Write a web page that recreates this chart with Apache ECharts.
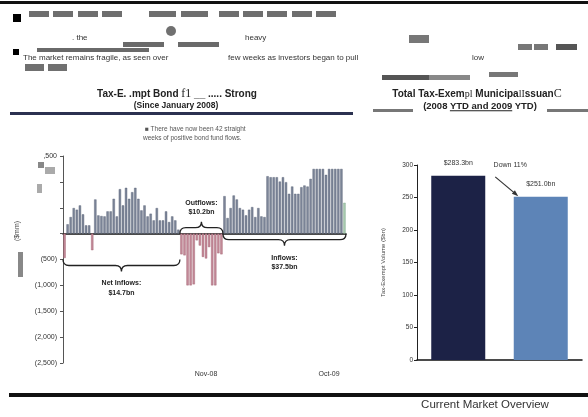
<!DOCTYPE html>
<html>
<head>
<meta charset="utf-8">
<title>Current Market Overview</title>
<script src="https://cdn.jsdelivr.net/npm/echarts@6/dist/echarts.min.js"></script>
<style>
  html, body { margin: 0; padding: 0; background: #fff; }
  #page { position: relative; width: 588px; height: 417px; overflow: hidden; font-family: 'Liberation Sans', Arial, sans-serif; color: #333; }
  #chart { position: absolute; left: 0; top: 0; width: 588px; height: 417px; }
  .t { position: absolute; white-space: nowrap; line-height: 1; transform: translateY(-50%); pointer-events: none; }
  .c { position: absolute; white-space: nowrap; line-height: 1; transform: translate(-50%, -50%); pointer-events: none; font-weight: bold; color: #222; }
  .b { position: absolute; pointer-events: none; }
  .s { font-family: 'Liberation Serif', 'DejaVu Serif', serif; font-weight: normal; }
</style>
</head>
<body>
<div id="page">
  <div id="chart"></div>

  <!-- page rules and redaction blocks -->
  <div class="b" style="left:0;top:1px;width:588px;height:3px;background:#111"></div>
  <div class="b" style="left:13px;top:14px;width:8px;height:8px;background:#000"></div>
  <div class="b" style="left:29px;top:11px;width:20px;height:6px;background:#6e6e6e"></div>
  <div class="b" style="left:53px;top:11px;width:20px;height:6px;background:#6e6e6e"></div>
  <div class="b" style="left:78px;top:11px;width:20px;height:6px;background:#6e6e6e"></div>
  <div class="b" style="left:102px;top:11px;width:20px;height:6px;background:#6e6e6e"></div>
  <div class="b" style="left:149px;top:11px;width:27px;height:6px;background:#6e6e6e"></div>
  <div class="b" style="left:181px;top:11px;width:27px;height:6px;background:#6e6e6e"></div>
  <div class="b" style="left:219px;top:11px;width:20px;height:6px;background:#6e6e6e"></div>
  <div class="b" style="left:243px;top:11px;width:20px;height:6px;background:#6e6e6e"></div>
  <div class="b" style="left:267px;top:11px;width:20px;height:6px;background:#6e6e6e"></div>
  <div class="b" style="left:292px;top:11px;width:20px;height:6px;background:#6e6e6e"></div>
  <div class="b" style="left:316px;top:11px;width:20px;height:6px;background:#6e6e6e"></div>
  <div class="b" style="left:166px;top:26px;width:10px;height:10px;border-radius:50%;background:#707070"></div>
  <div class="t" style="left:72px;top:37.5px;font-size:8px">. the</div>
  <div class="t" style="left:245px;top:37.5px;font-size:8px">heavy</div>
  <div class="b" style="left:409px;top:35px;width:20px;height:8px;background:#777"></div>
  <div class="b" style="left:123px;top:42px;width:41px;height:5px;background:#6a6a6a"></div>
  <div class="b" style="left:178px;top:42px;width:41px;height:5px;background:#6a6a6a"></div>
  <div class="b" style="left:37px;top:48px;width:112px;height:4px;background:#6a6a6a"></div>
  <div class="b" style="left:13px;top:49px;width:6px;height:6px;background:#000"></div>
  <div class="t" style="left:23px;top:57.5px;font-size:8px">The market remains fragile, as seen over</div>
  <div class="t" style="left:228px;top:57.5px;font-size:8px">few weeks as investors began to pull</div>
  <div class="t" style="left:472px;top:57.5px;font-size:8px">low</div>
  <div class="b" style="left:518px;top:44px;width:14px;height:6px;background:#777"></div>
  <div class="b" style="left:534px;top:44px;width:14px;height:6px;background:#777"></div>
  <div class="b" style="left:556px;top:44px;width:21px;height:6px;background:#555"></div>
  <div class="b" style="left:25px;top:64px;width:19px;height:7px;background:#707070"></div>
  <div class="b" style="left:48px;top:64px;width:19px;height:7px;background:#707070"></div>
  <div class="b" style="left:489px;top:72px;width:29px;height:5px;background:#777"></div>
  <div class="b" style="left:382px;top:75px;width:47px;height:5px;background:#555"></div>
  <div class="b" style="left:429px;top:75px;width:41px;height:5px;background:#888"></div>

  <!-- left panel heading -->
  <div class="c" style="left:177px;top:93px;font-size:10px">Tax-E. .mpt Bond <span class="s" style="font-size:12px">f1</span> __ ..... Strong</div>
  <div class="c" style="left:176px;top:105px;font-size:8.5px">(Since January 2008)</div>
  <div class="b" style="left:10px;top:112px;width:343px;height:3px;background:#2b3150"></div>
  <div class="t" style="left:145px;top:129px;font-size:6.5px;color:#555">&#9632; There have now been 42 straight</div>
  <div class="t" style="left:143px;top:138px;font-size:6.5px;color:#555">weeks of positive bond fund flows.</div>
  <div class="c" style="left:16px;top:231px;font-size:7px;font-weight:normal;color:#444;transform:translate(-50%,-50%) rotate(-90deg)">($mm)</div>
  <div class="b" style="left:18px;top:252px;width:5px;height:25px;background:#888"></div>
  <div class="b" style="left:38px;top:162px;width:6px;height:6px;background:#888"></div>
  <div class="b" style="left:45px;top:167px;width:10px;height:7px;background:#aaa"></div>
  <div class="b" style="left:37px;top:184px;width:5px;height:9px;background:#aaa"></div>

  <!-- right panel heading -->
  <div class="c" style="left:477px;top:93px;font-size:10px">Total Tax-Exem<span class="s">pl</span> Municipa<span class="s">lI</span>ssuan<span class="s" style="font-size:12px">C</span></div>
  <div class="c" style="left:480px;top:106px;font-size:9.5px">(2008 <u>YTD and 2009</u> YTD)</div>
  <div class="b" style="left:373px;top:109px;width:40px;height:3px;background:#777"></div>
  <div class="b" style="left:547px;top:109px;width:41px;height:3px;background:#777"></div>

  <!-- footer -->
  <div class="b" style="left:9px;top:393px;width:579px;height:4px;background:#111"></div>
  <div class="c" style="left:485px;top:405px;font-size:11.5px;font-weight:normal;color:#333">Current Market Overview</div>
</div>

<script>
// weekly tax-exempt bond fund flows since Jan 2008 ($mm) (tall bars clipped at ~1,250)
const FLOW_VALUES = [
  -470, 180, 320, 494, 462, 545, 372, 160, 160, -320,
  660, 352, 340, 333, 430, 430, 673, 333, 859, 545,
  885, 673, 801, 885, 673, 449, 545, 333, 385, 256,
  494, 256, 256, 430, 224, 333, 256, 77,
  -400, -420, -1000, -1000, -980, -130, -230, -450, -480, -260,
  -1000, -1000, -380, -400,
  724, 301, 494, 737, 660, 494, 462, 352, 462, 513,
  320, 494, 333, 320, 1109, 1090, 1090, 1090, 1006, 1090,
  994, 769, 910, 769, 769, 897, 930, 910, 1058, 1250,
  1250, 1250, 1250, 1135, 1250, 1250, 1250, 1250, 1250,
  596
];
const FLOW_TICK_IDX = [46, 86];
const FLOW_TICK_TEXT = ['Nov-08', 'Oct-09'];
// labels from -2,500 up to 1,500 (0 / 500 / 1,000 are not legible in the scan)
const FLOW_Y_LABELS = ['(2,500)', '(2,000)', '(1,500)', '(1,000)', '(500)', '', '', '', ',500'];

const BRACE_RANGES = [[0, 37], [38, 51], [52, 91]];
const BRACE_LEVELS = [-500, 0, 0];
const BRACE_DIRS = [1, -1, 1];
const BRACE_TITLES = ['Net Inflows:', 'Outflows:', 'Inflows:'];
const BRACE_TOTALS = ['$14.7bn', '$10.2bn', '$37.5bn'];

const ISSUANCE_CATS = ['2008 YTD', '2009 YTD'];
const ISSUANCE_VALUES = [283.3, 251.0];
const ISSUANCE_LABELS = ['$283.3bn', '$251.0bn'];
const ISSUANCE_NOTE = 'Down 11%';

const FONT = "'Liberation Sans', Arial, sans-serif";

function buildFlowData() {
  const last = FLOW_VALUES.length - 1;
  return FLOW_VALUES.map((v, i) => {
    let color = '#7d8699';
    let border = '#525a6e';
    if (i === last) {
      color = '#a6c9ae';
      border = '#7fa588';
    } else if (v < 0) {
      color = '#c48a99';
      border = '#9c5a6a';
    }
    return { value: v, itemStyle: { color, borderColor: border, borderWidth: 0.4 } };
  });
}

function renderBrace(params, api) {
  const i = params.dataIndex;
  const half = api.size([1, 0])[0] / 2;
  const a = api.coord([api.value(0), api.value(2)]);
  const b = api.coord([api.value(1), api.value(2)]);
  const d = api.value(3);
  const r = 6;
  const x1 = a[0] - half;
  const x2 = b[0] + half;
  const y0 = a[1];
  const xm = (x1 + x2) / 2;
  const yb = y0 + d * r;
  const yt = y0 + d * 2 * r;
  const path =
    `M${x1},${y0} Q${x1},${yb} ${x1 + r},${yb} L${xm - r},${yb} ` +
    `Q${xm},${yb} ${xm},${yt} Q${xm},${yb} ${xm + r},${yb} ` +
    `L${x2 - r},${yb} Q${x2},${yb} ${x2},${y0}`;
  const line1 = d > 0 ? yt + 12 : yt - 19;
  const textStyle = { textAlign: 'center', textVerticalAlign: 'middle', fontSize: 7, fontWeight: 'bold', fontFamily: FONT, fill: '#222' };
  return {
    type: 'group',
    children: [
      { type: 'path', shape: { pathData: path }, style: { fill: 'none', stroke: '#222', lineWidth: 1.3 } },
      { type: 'text', style: { ...textStyle, text: BRACE_TITLES[i], x: xm, y: line1 } },
      { type: 'text', style: { ...textStyle, text: BRACE_TOTALS[i], x: xm, y: line1 + 9.5 } }
    ]
  };
}

const weekCats = FLOW_VALUES.map((_, i) => `W${i + 1}`);

const option = {
  animation: false,
  textStyle: { fontFamily: FONT },
  grid: [
    { left: 63, top: 156, width: 283, height: 207 },
    { left: 417, top: 165, width: 165, height: 195 }
  ],
  xAxis: [
    {
      type: 'category',
      gridIndex: 0,
      position: 'top',
      data: weekCats,
      axisLine: { onZero: true, lineStyle: { color: '#111', width: 1.5 } },
      axisTick: { show: false },
      axisLabel: { show: false },
      splitLine: { show: false }
    },
    {
      type: 'category',
      gridIndex: 0,
      position: 'bottom',
      data: weekCats,
      axisLine: { show: false, onZero: false },
      axisTick: { show: false },
      axisLabel: {
        interval: (idx) => FLOW_TICK_IDX.includes(idx),
        formatter: (v, idx) => FLOW_TICK_TEXT[FLOW_TICK_IDX.indexOf(idx)] || '',
        fontSize: 7,
        color: '#333',
        margin: 8
      }
    },
    {
      type: 'category',
      gridIndex: 1,
      data: ISSUANCE_CATS,
      axisLine: { lineStyle: { color: '#111', width: 1.5 } },
      axisTick: { show: false },
      axisLabel: { show: false }
    }
  ],
  yAxis: [
    {
      type: 'value',
      gridIndex: 0,
      min: -2500,
      max: 1500,
      interval: 500,
      axisLine: { show: true, lineStyle: { color: '#555', width: 1 } },
      axisTick: { show: true, length: 3, lineStyle: { color: '#555' } },
      splitLine: { show: false },
      axisLabel: {
        formatter: (v) => FLOW_Y_LABELS[Math.round((v + 2500) / 500)],
        fontSize: 7,
        color: '#333',
        margin: 6
      }
    },
    {
      type: 'value',
      gridIndex: 1,
      min: 0,
      max: 300,
      interval: 50,
      name: 'Tax-Exempt Volume ($bn)',
      nameLocation: 'middle',
      nameGap: 31,
      nameRotate: 90,
      nameTextStyle: { fontSize: 6, color: '#444' },
      axisLine: { show: true, lineStyle: { color: '#222', width: 1 } },
      axisTick: { show: true, length: 3, lineStyle: { color: '#222' } },
      splitLine: { show: false },
      axisLabel: { fontSize: 6.5, color: '#333', margin: 4 }
    }
  ],
  series: [
    {
      name: 'Weekly flows',
      type: 'bar',
      xAxisIndex: 0,
      yAxisIndex: 0,
      barCategoryGap: '25%',
      data: buildFlowData()
    },
    {
      name: 'Flow periods',
      type: 'custom',
      xAxisIndex: 0,
      yAxisIndex: 0,
      renderItem: renderBrace,
      encode: { x: [0, 1], y: 2 },
      data: BRACE_RANGES.map((r, i) => [r[0], r[1], BRACE_LEVELS[i], BRACE_DIRS[i]]),
      z: 5
    },
    {
      name: 'Issuance',
      type: 'bar',
      xAxisIndex: 2,
      yAxisIndex: 1,
      barWidth: 54,
      data: ISSUANCE_VALUES.map((v, i) => ({
        value: v,
        itemStyle: { color: i === 0 ? '#1c2246' : '#5d84b7' }
      })),
      label: {
        show: true,
        position: 'top',
        distance: 9,
        fontSize: 7,
        color: '#333',
        formatter: (p) => ISSUANCE_LABELS[p.dataIndex]
      }
    }
  ]
};

const chart = echarts.init(document.getElementById('chart'), null, { renderer: 'canvas' });
chart.setOption(option);

// arrow between the two issuance bars, placed from the bar tops
const finder = { xAxisIndex: 2, yAxisIndex: 1 };
const p0 = chart.convertToPixel(finder, [0, ISSUANCE_VALUES[0]]);
const p1 = chart.convertToPixel(finder, [1, ISSUANCE_VALUES[1]]);
const start = [p0[0] + 37, p0[1] + 1];
const end = [p1[0] - 24, p1[1] - 2];
const ang = Math.atan2(end[1] - start[1], end[0] - start[0]);
const head = 5;
chart.setOption({
  graphic: [
    {
      type: 'line',
      shape: { x1: start[0], y1: start[1], x2: end[0], y2: end[1] },
      style: { stroke: '#333', lineWidth: 1.2 }
    },
    {
      type: 'polygon',
      shape: {
        points: [
          [end[0] + Math.cos(ang) * 2, end[1] + Math.sin(ang) * 2],
          [end[0] - Math.cos(ang - 0.5) * head, end[1] - Math.sin(ang - 0.5) * head],
          [end[0] - Math.cos(ang + 0.5) * head, end[1] - Math.sin(ang + 0.5) * head]
        ]
      },
      style: { fill: '#333' }
    },
    {
      type: 'text',
      x: p0[0] + 52,
      y: p0[1] - 11,
      style: { text: ISSUANCE_NOTE, fontSize: 7, fill: '#333', fontFamily: FONT, textAlign: 'center', textVerticalAlign: 'middle' }
    }
  ]
});
</script>
</body>
</html>
